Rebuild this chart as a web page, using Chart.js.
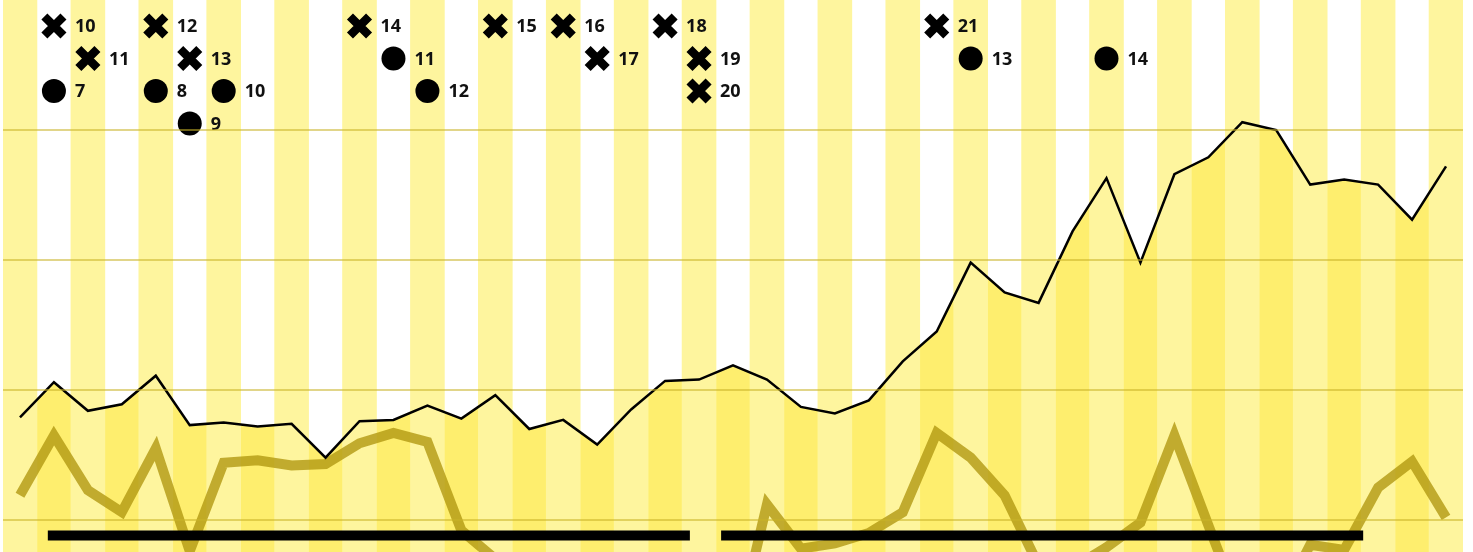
<!DOCTYPE html>
<html lang="en">
<head>
    <meta charset="UTF-8">
    <title>Episode chart</title>
    <style>
        body { margin: 0; padding: 0; background: #fff; overflow: hidden; }
        #wrap { width: 1473px; height: 650px; }
    </style>
    <script src="https://cdn.jsdelivr.net/npm/chart.js"></script>
</head>
<body>

<div id="wrap"><canvas id="chart" width="1473" height="650"></canvas></div>

<script>
    // one column per episode
    const columns = [0, 1, 2, 3, 4, 5, 6, 7, 8, 9, 10, 11, 12, 13, 14, 15, 16, 17, 18, 19, 20,
        21, 22, 23, 24, 25, 26, 27, 28, 29, 30, 31, 32, 33, 34, 35, 36, 37, 38, 39, 40, 41, 42];

    // black line
    const mainSeries = [17.9, 20.6, 18.4, 18.9, 21.1, 17.3, 17.5, 17.2, 17.4, 14.8, 17.6, 17.7, 18.8, 17.8, 19.6,
        17.0, 17.7, 15.8, 18.5, 20.7, 20.8, 21.9, 20.8, 18.7, 18.2, 19.2, 22.2, 24.5, 29.8, 27.5,
        26.7, 32.2, 36.3, 29.8, 36.6, 37.9, 40.6, 40.0, 35.8, 36.2, 35.8, 33.1, 37.2];

    // thick olive line (dips below the visible area)
    const secondSeries = [11.9, 16.5, 12.3, 10.6, 15.5, 7.6, 14.4, 14.6, 14.2, 14.3, 15.9, 16.7, 16.0, 9.2, 7.0,
        5.0, 4.0, 4.0, 5.0, 4.0, 2.0, 0.2, 11.2, 7.8, 8.2, 9.0, 10.6, 16.7, 14.8, 11.9,
        6.5, 6.3, 7.9, 9.8, 16.5, 9.6, 2.8, 3.0, 8.1, 7.7, 12.5, 14.5, 10.2];

    // two season bars along the bottom
    const seasonStart = [0.82, 20.65];
    const seasonEnd = [19.73, 39.56];
    const seasonLevel = 8.8;

    // markers at the top: column, row, label
    const crossCols = [1, 2, 4, 5, 10, 14, 16, 17, 19, 20, 20, 27];
    const crossRows = [1, 2, 1, 2, 1, 1, 1, 2, 1, 2, 3, 1];
    const crossLabels = ['10', '11', '12', '13', '14', '15', '16', '17', '18', '19', '20', '21'];

    const dotCols = [1, 4, 5, 6, 11, 12, 28, 32];
    const dotRows = [3, 3, 4, 3, 2, 3, 2, 2];
    const dotLabels = ['7', '8', '9', '10', '11', '12', '13', '14'];

    const LIGHT = '#fef59e';
    const DEEP = '#feee6e';

    const seasonData = [];
    seasonStart.forEach((s, i) => {
        if (i > 0) seasonData.push({ x: (seasonEnd[i - 1] + s) / 2, y: null });
        seasonData.push({ x: s, y: seasonLevel });
        seasonData.push({ x: seasonEnd[i], y: seasonLevel });
    });

    const stripeData = columns.map(c => (c % 2 === 0 ? 50 : null));

    // draws the number next to each marker
    const markerLabels = {
        id: 'markerLabels',
        afterDatasetsDraw(chart) {
            const ctx = chart.ctx;
            ctx.save();
            ctx.font = 'bold 18px "Open Sans"';
            ctx.fillStyle = '#111';
            ctx.textBaseline = 'middle';
            chart.data.datasets.forEach((ds, di) => {
                if (!ds.pointLabels) return;
                chart.getDatasetMeta(di).data.forEach((pt, i) => {
                    ctx.fillText(ds.pointLabels[i], pt.x + 21, pt.y + 1);
                });
            });
            ctx.restore();
        }
    };

    new Chart(document.getElementById('chart'), {
        type: 'line',
        data: {
            labels: columns,
            datasets: [
                {
                    label: 'crosses',
                    yAxisID: 'yRows',
                    data: crossCols.map((c, i) => ({ x: c, y: crossRows[i] })),
                    pointLabels: crossLabels,
                    showLine: false,
                    pointStyle: 'crossRot',
                    pointRadius: 13.5,
                    pointBorderWidth: 8.5,
                    pointBorderColor: '#000',
                    pointBackgroundColor: '#000',
                    order: 0
                },
                {
                    label: 'dots',
                    yAxisID: 'yRows',
                    data: dotCols.map((c, i) => ({ x: c, y: dotRows[i] })),
                    pointLabels: dotLabels,
                    showLine: false,
                    pointStyle: 'circle',
                    pointRadius: 12,
                    pointBorderWidth: 0,
                    pointBackgroundColor: '#000',
                    order: 0
                },
                {
                    label: 'seasons',
                    data: seasonData,
                    borderColor: '#000',
                    borderWidth: 10,
                    borderCapStyle: 'butt',
                    pointRadius: 0,
                    spanGaps: false,
                    order: 1
                },
                {
                    label: 'main',
                    data: mainSeries,
                    borderColor: '#000',
                    borderWidth: 2.5,
                    borderJoinStyle: 'miter',
                    pointRadius: 0,
                    tension: 0,
                    order: 2
                },
                {
                    label: 'second',
                    data: secondSeries,
                    borderColor: 'rgba(178, 152, 18, 0.8)',
                    borderWidth: 10,
                    borderJoinStyle: 'miter',
                    pointRadius: 0,
                    tension: 0,
                    order: 3
                },
                {
                    type: 'bar',
                    label: 'stripes',
                    data: stripeData,
                    backgroundColor: LIGHT,
                    borderWidth: 0,
                    barPercentage: 1,
                    categoryPercentage: 1,
                    order: 4
                },
                {
                    label: 'mainFill',
                    data: mainSeries,
                    borderWidth: 0,
                    borderColor: 'rgba(0,0,0,0)',
                    backgroundColor: DEEP,
                    fill: 'start',
                    pointRadius: 0,
                    tension: 0,
                    order: 5
                }
            ]
        },
        options: {
            responsive: false,
            animation: false,
            events: [],
            layout: { autoPadding: false, padding: { left: 3, right: 10, top: 0, bottom: 0 } },
            plugins: {
                legend: { display: false },
                tooltip: { enabled: false }
            },
            scales: {
                x: {
                    type: 'linear',
                    min: -0.5,
                    max: 42.5,
                    offset: false,
                    display: false,
                    ticks: { stepSize: 1, includeBounds: false }
                },
                y: {
                    min: 0,
                    max: 50,
                    position: 'left',
                    border: { display: false },
                    ticks: { display: false, stepSize: 10 },
                    grid: {
                        z: 1,
                        drawTicks: false,
                        lineWidth: 2,
                        color: c => (c.tick.value > 0 && c.tick.value < 50 ? 'rgba(200, 178, 40, 0.55)' : 'rgba(0,0,0,0)')
                    }
                },
                yRows: {
                    type: 'linear',
                    axis: 'y',
                    display: false,
                    reverse: true,
                    min: 0.2,
                    max: 20.2
                }
            }
        },
        plugins: [markerLabels]
    });
</script>

</body>
</html>
